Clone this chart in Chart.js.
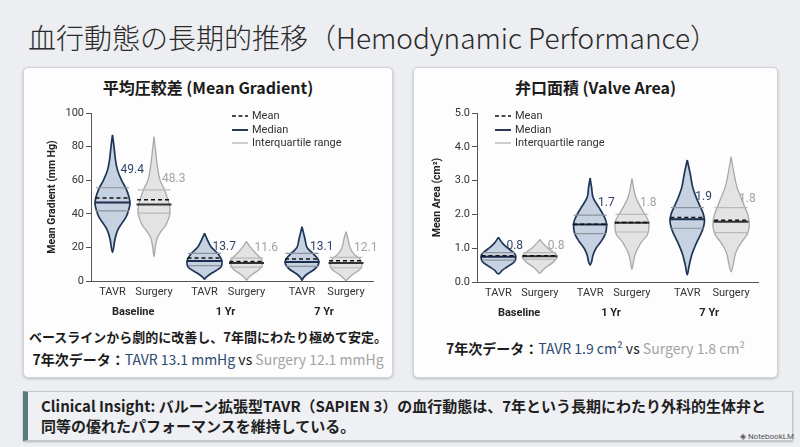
<!DOCTYPE html>
<html>
<head>
<meta charset="utf-8">
<script src="https://cdn.jsdelivr.net/npm/chart.js@4.4.1/dist/chart.umd.min.js"></script>
<style>
  body { margin: 0; width: 800px; height: 447px; background: #eceef1; position: relative; overflow: hidden;
         font-family: "Noto Sans CJK JP", "Noto Sans", sans-serif; }
  .abs { position: absolute; white-space: nowrap; }
  #title { left: 28px; top: 18px; font-size: 28px; line-height: 38px; color: #2a2a2a; font-weight: 300; }
  .card { background: #fdfdfd; border: 1px solid #cfd2d6; border-radius: 5px; box-shadow: 0 1px 3px rgba(0,0,0,.22); box-sizing: border-box; }
  .ptitle { font-size: 16px; line-height: 20px; font-weight: bold; color: #1b1b1b; text-align: center; top: 77px; }
  .note { text-align: center; color: #1b1b1b; }
  .tavr { color: #2c4a72; }
  .surg { color: #a3a3a3; }
  #insight { left: 23px; top: 391px; width: 770px; height: 50px; background: #eef0f3; border: 1px solid #c3c7cc;
             border-left: 5px solid #5b7b7a; box-sizing: border-box; box-shadow: 0 1px 2px rgba(0,0,0,.25);
             padding: 4px 0 0 13px; font-size: 15px; line-height: 19.5px; font-weight: bold; color: #1f1f1f; white-space: normal; }
  #mark { right: 6px; top: 432px; font-size: 8px; color: #555; font-family: Roboto, sans-serif; }
  canvas { position: absolute; }
</style>
</head>
<body>
<div id="title" class="abs">血行動態の長期的推移（Hemodynamic Performance）</div>

<div class="abs card" style="left:23px;top:67px;width:370px;height:311px"></div>
<div class="abs card" style="left:413px;top:67px;width:365px;height:311px"></div>

<div class="abs ptitle" style="left:23px;width:370px">平均圧較差 (Mean Gradient)</div>
<div class="abs ptitle" style="left:413px;width:365px">弁口面積 (Valve Area)</div>

<canvas id="grad" width="370" height="225" style="left:23px;top:100px"></canvas>
<canvas id="area" width="365" height="225" style="left:413px;top:100px"></canvas>

<div class="abs note" style="left:23px;width:370px;top:328px;font-size:13px;line-height:18px;font-weight:bold">ベースラインから劇的に改善し、7年間にわたり極めて安定。</div>
<div class="abs note" style="left:23px;width:370px;top:350px;font-size:14px;line-height:19px"><b>7年次データ：</b><span class="tavr">TAVR 13.1 mmHg</span> vs <span class="surg">Surgery 12.1 mmHg</span></div>
<div class="abs note" style="left:413px;width:365px;top:339px;font-size:14px;line-height:19px"><b>7年次データ：</b><span class="tavr">TAVR 1.9 cm²</span> vs <span class="surg">Surgery 1.8 cm²</span></div>

<div id="insight" class="abs">Clinical Insight: バルーン拡張型TAVR（SAPIEN 3）の血行動態は、7年という長期にわたり外科的生体弁と<br>同等の優れたパフォーマンスを維持している。</div>
<div id="mark" class="abs">&#9672; NotebookLM</div>

<script>
// categories
const groups = ["Baseline", "1 Yr", "7 Yr"];
const arms = ["TAVR", "Surgery"];

// tick labels
const gradTicks = [0, 20, 40, 60, 80, 100];
const areaTicks = [0, 1, 2, 3, 4, 5];

// mean gradient (mm Hg), order: Baseline TAVR, Baseline Surgery, 1Yr TAVR, 1Yr Surgery, 7Yr TAVR, 7Yr Surgery
const gradMean = [49.4, 48.3, 13.7, 11.6, 13.1, 12.1];
const gradMedian = [46.8, 45.6, 11.9, 10.7, 11.3, 10.7];
const gradQ1 = [41.8, 40.4, 9.1, 8.2, 8.7, 7.9];
const gradQ3 = [55.5, 54.2, 16.5, 13.6, 16.5, 14.1];

// violin outlines: [value, half width]
const gradTavrBase = [[87,0],[80,1.5],[72,3],[66,5],[60,9],[55,13.5],[50,16.5],[46,17.5],[42,16],[38,13.5],[34,9],[30,5],[25,2.5],[17,0]];
const gradSurgBase = [[86,0],[78,1.5],[70,3],[60,6],[55,10],[50,13],[45,15.5],[41,16],[37,14.5],[33,11.5],[30,7.5],[26,3.5],[21,1.5],[14.5,0]];
const gradTavr1 = [[28.4,0],[24.4,3],[20.4,6.5],[16.5,13],[13.5,16.5],[11.5,17.5],[9,17],[7.5,15],[4.6,7],[2.2,1.5],[1.2,0]];
const gradSurg1 = [[23.4,0],[20,4],[16,10],[13,15],[10,16],[7,13],[4,6],[2,2],[0.5,0]];
const gradTavr7 = [[32.3,0],[25,3],[20,5],[16,11.5],[13,16],[10,16.5],[7,12.5],[4,5],[2,1.5],[0.5,0]];
const gradSurg7 = [[29.4,0],[25,2],[20,4],[16,8],[13,14],[10,16],[7,14],[4,7],[2,3],[0.3,0]];

// valve area (cm2)
const areaMean = [0.78, 0.78, 1.71, 1.76, 1.91, 1.83];
const areaMedian = [0.75, 0.76, 1.70, 1.75, 1.86, 1.78];
const areaQ1 = [0.65, 0.67, 1.43, 1.48, 1.59, 1.46];
const areaQ3 = [0.87, 0.87, 1.98, 2.0, 2.2, 2.2];

const areaTavrBase = [[1.32,0],[1.15,4],[1.0,9.5],[0.85,16],[0.75,17.5],[0.6,16],[0.45,9],[0.35,4],[0.24,0]];
const areaSurgBase = [[1.26,0],[1.15,3],[1.0,8],[0.85,15],[0.75,17.5],[0.6,14],[0.45,7],[0.35,3],[0.26,0]];
const areaTavr1 = [[3.07,0],[2.8,1.5],[2.5,3],[2.2,9],[2.0,13],[1.8,16],[1.6,16.5],[1.4,15],[1.2,11],[1.0,6],[0.8,3],[0.6,1.5],[0.5,0]];
const areaSurg1 = [[3.07,0],[2.8,1.5],[2.5,4],[2.2,9],[2.0,13],[1.8,16.5],[1.6,17],[1.4,15.5],[1.2,10],[1.0,6],[0.8,3],[0.6,1.5],[0.38,0]];
const areaTavr7 = [[3.61,0],[3.2,3],[2.8,5.5],[2.5,9],[2.2,13.5],[2.0,16.3],[1.8,17.3],[1.6,16],[1.4,13.3],[1.2,10],[1.0,7],[0.8,4.5],[0.5,2],[0.21,0]];
const areaSurg7 = [[3.71,0],[3.2,3],[2.8,6],[2.5,10],[2.2,14],[2.0,16.7],[1.8,18],[1.6,18],[1.4,16],[1.2,11],[1.0,6.7],[0.8,4],[0.5,2],[0.3,0]];

// layout: slot centres on a 0..282 x axis, where value labels sit
const slotX = [21.5, 63, 113.5, 155.5, 211, 255];
const gradLabelAt = [66, 60.5, 20, 19.6, 20, 19.6];
const areaLabelAt = [1.07, 1.07, 2.33, 2.33, 2.52, 2.45];

const TAVR_LINE = "#1f3558", TAVR_FILL = "#c6d1e1";
const SURG_LINE = "#a8a8a8", SURG_FILL = "#e3e3e3";
const TEXT = "#333";

Chart.defaults.font.family = 'Roboto, "Noto Sans CJK JP", sans-serif';

function violin(cx, prof) {
  const right = prof.map(([v, w]) => ({x: cx + w, y: v}));
  const left = prof.slice(1, -1).reverse().map(([v, w]) => ({x: cx - w, y: v}));
  return [...right, ...left, right[0]];
}

function bars(vals, hw, pick) {
  const pts = [];
  vals.forEach((v, i) => {
    if (pick && !pick(i)) return;
    pts.push({x: slotX[i] - hw, y: v}, {x: slotX[i] + hw, y: v}, {x: slotX[i], y: null});
  });
  return pts;
}

function lineSet(data, color, width, dash, order) {
  return {type: "line", data, borderColor: color, borderWidth: width, borderDash: dash || [],
          pointRadius: 0, fill: false, tension: 0, order};
}

function makeChart(id, c) {
  const datasets = [];
  c.shapes.forEach((prof, i) => {
    const t = i % 2 === 0;
    datasets.push({type: "line", data: violin(slotX[i], prof), borderColor: t ? TAVR_LINE : SURG_LINE,
      backgroundColor: t ? TAVR_FILL : SURG_FILL, borderWidth: t ? 1.7 : 1.3, fill: "shape",
      pointRadius: 0, tension: 0.35, order: 4});
  });
  datasets.push(lineSet(bars(c.q1.concat([]), 16.5, i => i % 2 === 0).concat(bars(c.q3, 16.5, i => i % 2 === 0)), "#8d939c", 1.2, null, 3));
  datasets.push(lineSet(bars(c.q1, 16.5, i => i % 2 === 1).concat(bars(c.q3, 16.5, i => i % 2 === 1)), "#b9b9b9", 1.2, null, 3));
  datasets.push(lineSet(bars(c.median, 17.5, i => i % 2 === 0), "#1c2e4d", 2, null, 2));
  datasets.push(lineSet(bars(c.median, 17.5, i => i % 2 === 1), "#333", 2, null, 2));
  datasets.push(lineSet(bars(c.mean, 17, null), "#111", 1.5, [4, 3], 1));

  const decor = {
    id: "decor",
    afterDatasetsDraw(chart) {
      const {ctx, scales: {x, y}} = chart;
      ctx.save();
      ctx.font = "12px Roboto";
      ctx.textAlign = "left";
      ctx.textBaseline = "middle";
      c.mean.forEach((m, i) => {
        ctx.fillStyle = i % 2 === 0 ? "#2f4669" : "#a3a3a3";
        ctx.fillText(m.toFixed(1), x.getPixelForValue(slotX[i]) + 8, y.getPixelForValue(c.labelAt[i]));
      });
      ctx.restore();
    },
    afterDraw(chart) {
      const {ctx, chartArea, scales: {x}} = chart;
      ctx.save();
      ctx.font = "bold 11px Roboto";
      ctx.fillStyle = "#222";
      ctx.textAlign = "center";
      ctx.textBaseline = "middle";
      groups.forEach((g, k) => {
        ctx.fillText(g, x.getPixelForValue((slotX[2 * k] + slotX[2 * k + 1]) / 2), chartArea.bottom + 31);
      });
      // legend
      const lx = chartArea.left + c.legendX, rows = [3, 17, 30];
      const items = [["Mean", "#111", 1.5, [4, 2.5]], ["Median", "#2b3a55", 2, []], ["Interquartile range", "#bdbdbd", 1.5, []]];
      ctx.font = "11px Roboto";
      ctx.textAlign = "left";
      items.forEach(([label, col, w, dash], k) => {
        const yy = chartArea.top + rows[k];
        ctx.strokeStyle = col; ctx.lineWidth = w; ctx.setLineDash(dash);
        ctx.beginPath(); ctx.moveTo(lx, yy); ctx.lineTo(lx + 16, yy); ctx.stroke();
        ctx.fillStyle = TEXT;
        ctx.fillText(label, lx + 20, yy);
      });
      ctx.restore();
    }
  };

  return new Chart(document.getElementById(id), {
    type: "line",
    data: {datasets},
    options: {
      animation: false, responsive: false, events: [],
      layout: {padding: {left: 0, right: 20, top: 13, bottom: 0}},
      plugins: {legend: {display: false}, tooltip: {enabled: false}},
      scales: {
        x: {
          type: "linear", min: 0, max: 282,
          afterBuildTicks: s => { s.ticks = slotX.map(v => ({value: v})); },
          afterFit: s => { s.height = c.xHeight; },
          grid: {display: false, drawTicks: false},
          border: {color: "#555", width: 1},
          ticks: {padding: 5, autoSkip: false, maxRotation: 0, color: TEXT, font: {size: 11},
                  callback: (v, i) => arms[i % 2]}
        },
        y: {
          type: "linear", min: c.ticks[0], max: c.ticks[c.ticks.length - 1],
          afterBuildTicks: s => { s.ticks = c.ticks.map(v => ({value: v})); },
          afterFit: s => { s.width = c.yWidth; },
          grid: {drawOnChartArea: false, tickLength: 5, color: "#555"},
          border: {color: "#555", width: 1},
          ticks: {padding: 2, color: TEXT, font: {size: 11}, callback: c.fmt},
          title: {display: true, text: c.yTitle, color: "#222", font: {size: 10.5, weight: "bold"},
                  padding: {top: c.titlePad, bottom: 0}}
        }
      }
    },
    plugins: [decor]
  });
}

makeChart("grad", {
  shapes: [gradTavrBase, gradSurgBase, gradTavr1, gradSurg1, gradTavr7, gradSurg7],
  mean: gradMean, median: gradMedian, q1: gradQ1, q3: gradQ3, labelAt: gradLabelAt,
  ticks: gradTicks, fmt: v => String(v), yTitle: "Mean Gradient (mm Hg)",
  yWidth: 68, xHeight: 44, titlePad: 23.5, legendX: 141
});

makeChart("area", {
  shapes: [areaTavrBase, areaSurgBase, areaTavr1, areaSurg1, areaTavr7, areaSurg7],
  mean: areaMean, median: areaMedian, q1: areaQ1, q3: areaQ3, labelAt: areaLabelAt,
  ticks: areaTicks, fmt: v => v.toFixed(1), yTitle: "Mean Area (cm²)",
  yWidth: 64, xHeight: 43, titlePad: 18.5, legendX: 18
});
</script>
</body>
</html>
